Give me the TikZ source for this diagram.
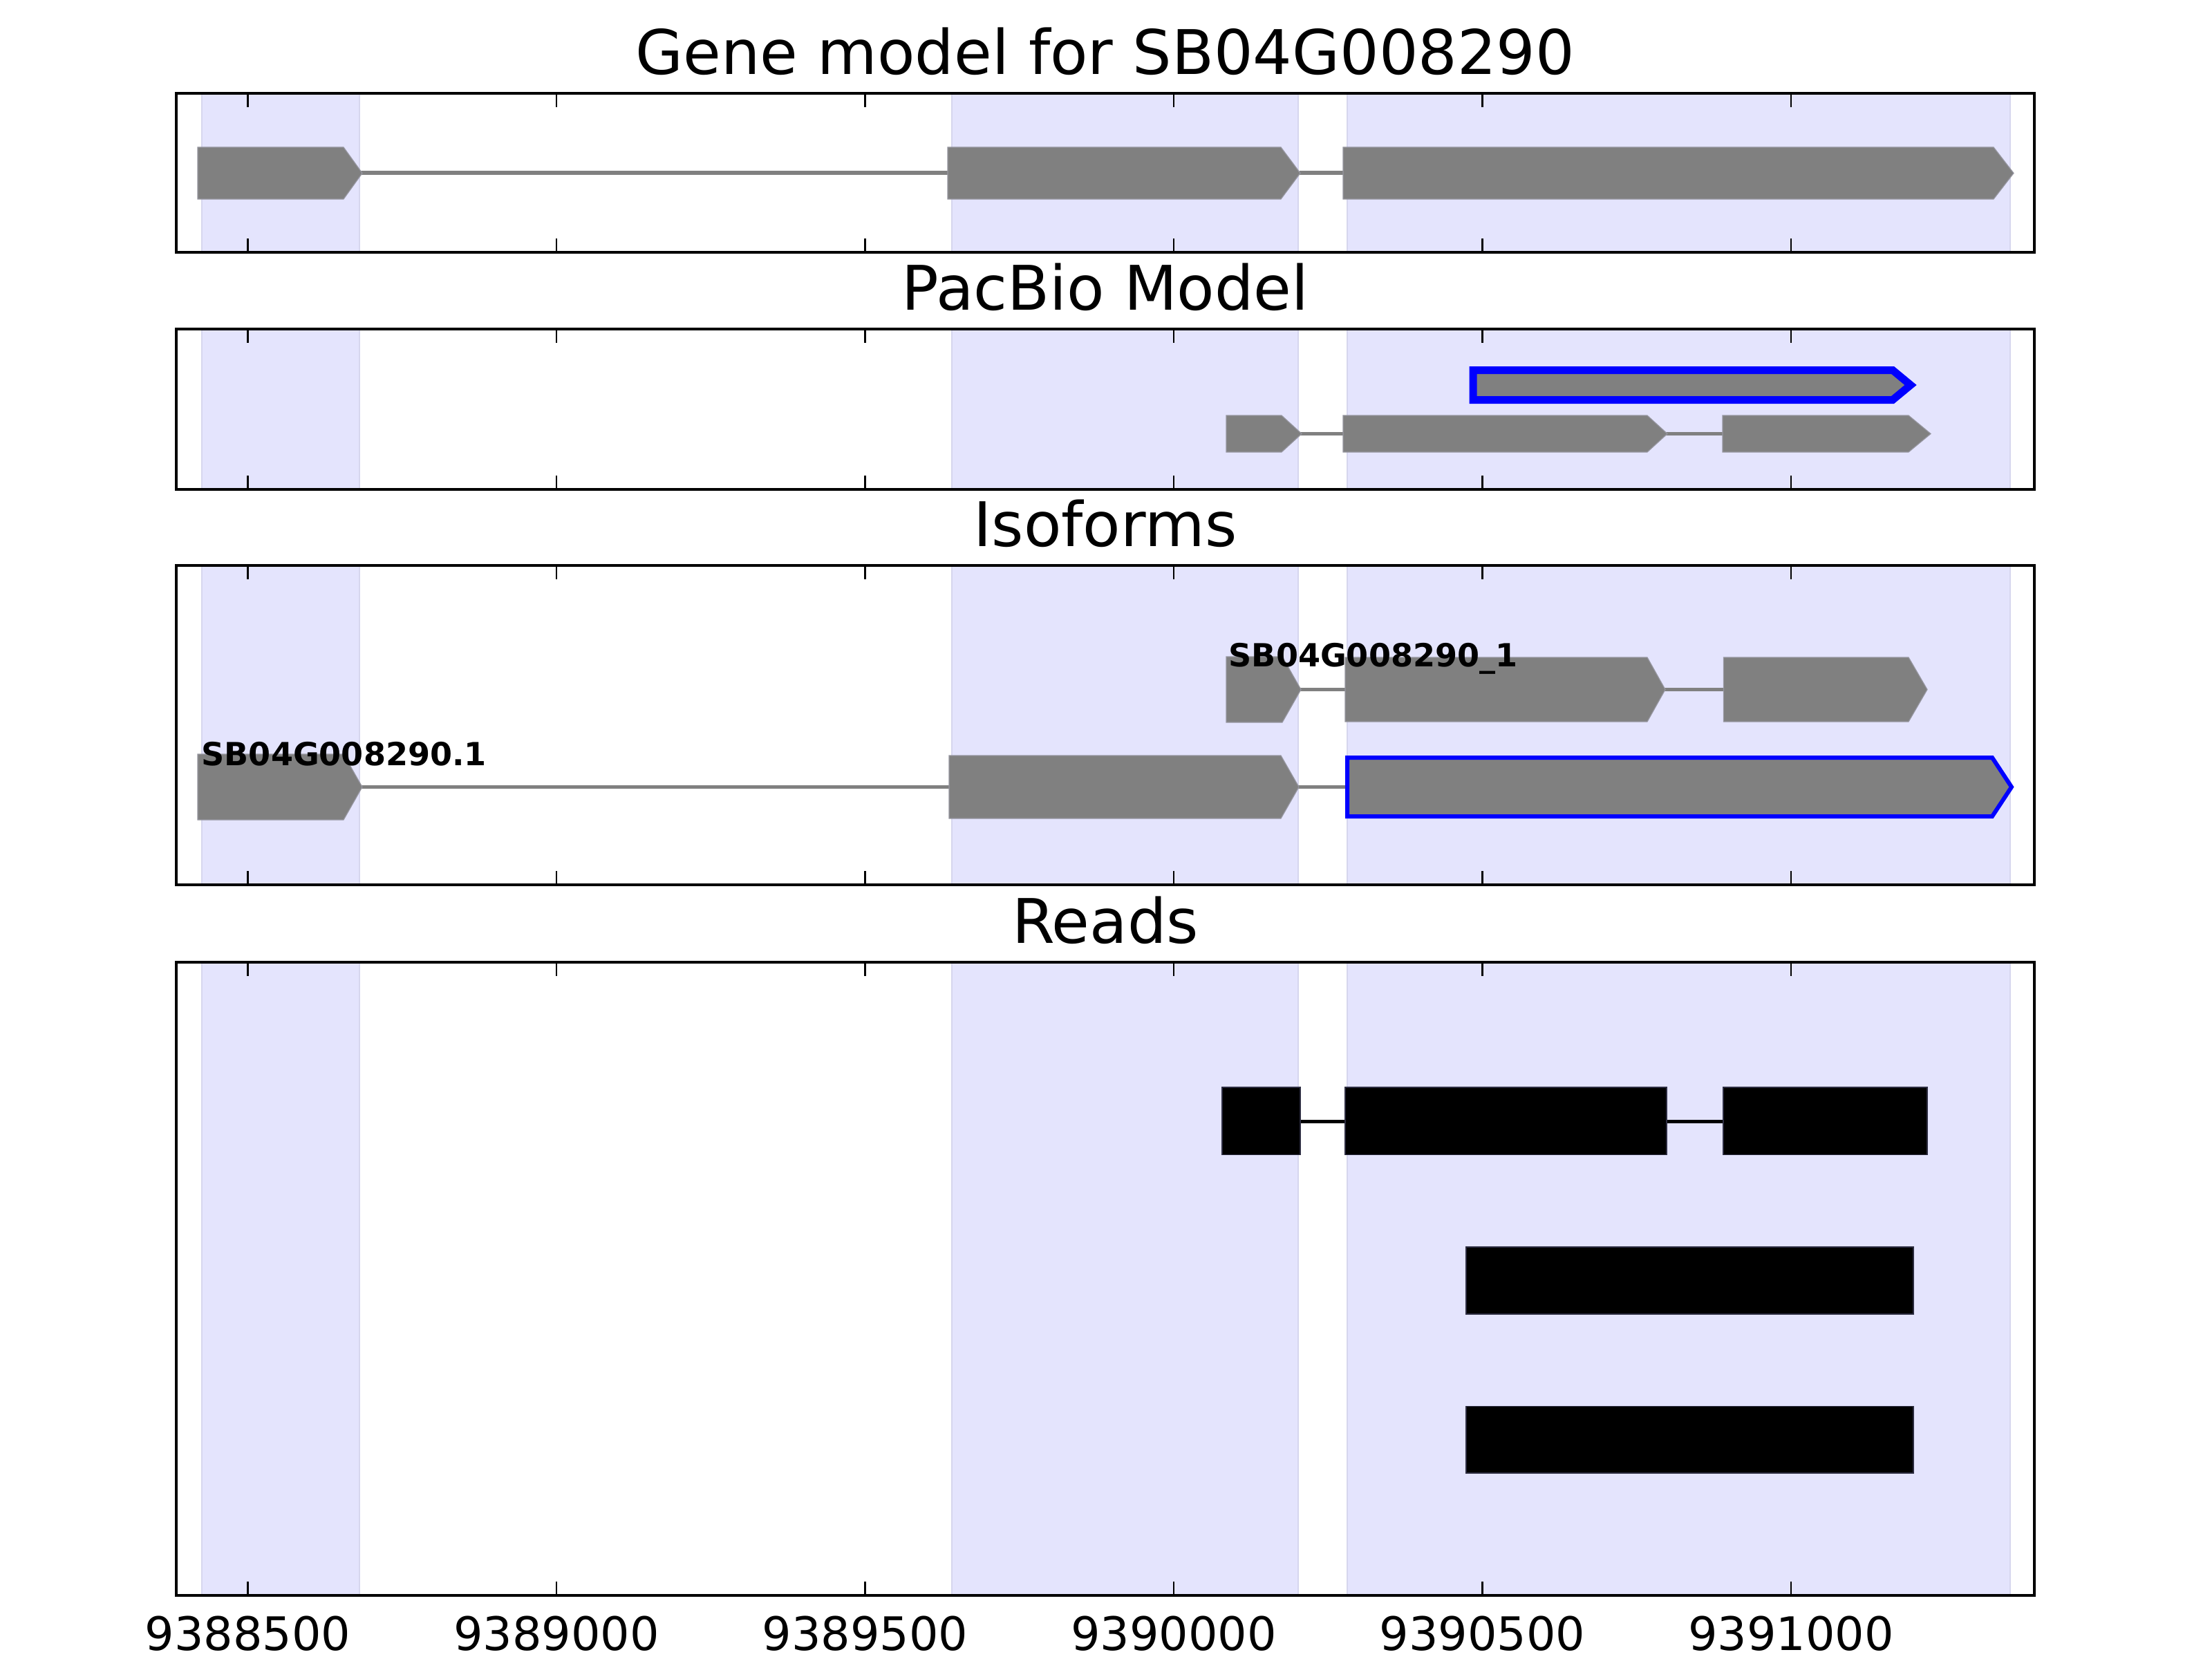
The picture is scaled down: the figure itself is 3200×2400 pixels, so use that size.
\documentclass[tikz,border=0pt]{standalone}
\usepackage{fontspec}
\setmainfont{DejaVu Sans}
\definecolor{spanfill}{RGB}{228,228,253}
\definecolor{spanedge}{RGB}{214,214,238}
\definecolor{exgray}{RGB}{128,128,128}
\definecolor{exedge}{RGB}{150,150,160}
\definecolor{readedge}{RGB}{45,45,65}
\definecolor{isoblue}{RGB}{0,0,255}
\tikzset{
 hlspan/.style={fill=spanfill, draw=spanedge, line width=0.025cm},
 exon/.style={fill=exgray, draw=exedge, line width=0.012cm},
 intron/.style={draw=exgray, line width=0.05cm},
 readbox/.style={fill=black, draw=readedge, line width=0.012cm},
 readline/.style={draw=black, line width=0.05cm},
 axframe/.style={draw=black, line width=0.04cm},
 tickmark/.style={draw=black, line width=0.025cm},
 ttl/.style={anchor=base, inner sep=0pt, font=\fontsize{25.3pt}{30pt}\selectfont},
 ticklab/.style={anchor=base, inner sep=0pt, font=\fontsize{19pt}{22pt}\selectfont},
 isolab/.style={anchor=base west, inner sep=0pt, font=\bfseries\fontsize{13.1pt}{16pt}\selectfont},
}
% #1 options, #2 left, #3 flat end, #4 tip, #5 top, #6 bottom
\newcommand{\gexon}[6][]{\draw[exon,#1] (#2,#5) -- (#3,#5) -- (#4,{(#5+#6)/2}) -- (#3,#6) -- (#2,#6) -- cycle;}
\begin{document}
\begin{tikzpicture}[x=0.01cm,y=-0.01cm]
\useasboundingbox (0,0) rectangle (3200,2400);
% shaded exon spans in every panel
\foreach \pt/\pb in {135/365,476/708,818/1280,1392/2308}{
  \draw[hlspan] (292,\pt) rectangle (520,\pb);
  \draw[hlspan] (1377,\pt) rectangle (1878,\pb);
  \draw[hlspan] (1949,\pt) rectangle (2908,\pb);
}
% ---- panel 1: gene model
\draw[intron] (520,250) -- (1373,250);
\draw[intron] (1880,250) -- (1945,250);
\gexon{286}{497}{524}{213}{288}
\gexon{1371}{1853}{1881}{213}{288}
\gexon{1943}{2884}{2913}{213}{288}
% ---- panel 2: PacBio model
\draw[fill=exgray, draw=isoblue, line width=0.11cm, line join=miter]
  (2131,535.5) -- (2738,535.5) -- (2764,557) -- (2738,578.5) -- (2131,578.5) -- cycle;
\draw[intron] (1880,627.5) -- (1945,627.5);
\draw[intron] (2410,627.5) -- (2494,627.5);
\gexon{1774}{1854}{1883}{601}{654}
\gexon{1943}{2383}{2412}{601}{654}
\gexon{2492}{2761}{2793}{601}{654}
% ---- panel 3: isoforms
\draw[intron] (1880,997.5) -- (1948,997.5);
\draw[intron] (2407,997.5) -- (2495,997.5);
\gexon{1774}{1855}{1882}{950}{1045}
\gexon{1946}{2383}{2409}{951}{1044}
\gexon{2493.5}{2761}{2788}{951}{1044}
\node[isolab] (lab1) at (1777,964) {SB04G008290\_1};
\draw[intron] (522,1138.5) -- (1375,1138.5);
\draw[intron] (1877,1138.5) -- (1950,1138.5);
\gexon{286}{497}{524}{1091}{1186}
\gexon{1373}{1853}{1879}{1093}{1184}
\draw[fill=exgray, draw=isoblue, line width=0.06cm, line join=miter]
  (1949,1096) -- (2882,1096) -- (2910,1138.5) -- (2882,1181) -- (1949,1181) -- cycle;
\node[isolab] (lab2) at (291,1107) {SB04G008290.1};
% ---- panel 4: reads
\draw[readline] (1768,1622) -- (2788,1622);
\draw[readbox] (1768,1573) rectangle (1881,1670.5);
\draw[readbox] (1946,1573) rectangle (2411,1670.5);
\draw[readbox] (2493,1573) rectangle (2788,1670.5);
\draw[readline] (2121,1852.5) -- (2768,1852.5);
\draw[readbox] (2121,1804) rectangle (2768,1901);
\draw[readline] (2121,2083) -- (2768,2083);
\draw[readbox] (2121,2034.5) rectangle (2768,2131);
% ---- ticks and frames
\foreach \pt/\pb in {135/365,476/708,818/1280,1392/2308}{
  \foreach \tx in {358.5,805,1251.5,1698,2144.5,2591}{
    \draw[tickmark] (\tx,\pt) -- (\tx,\pt+20);
    \draw[tickmark] (\tx,\pb) -- (\tx,\pb-20);
  }
  \draw[axframe] (255,\pt) rectangle (2943,\pb);
}
% ---- titles
\node[ttl] (t1) at (1599,108) {Gene model for SB04G008290};
\node[ttl] (t2) at (1599,448) {PacBio Model};
\node[ttl] (t3) at (1599,790) {Isoforms};
\node[ttl] (t4) at (1599,1364) {Reads};
% ---- tick labels
\node[ticklab] (x1) at (358.5,2387) {9388500};
\node[ticklab] (x2) at (805,2387) {9389000};
\node[ticklab] (x3) at (1251.5,2387) {9389500};
\node[ticklab] (x4) at (1698,2387) {9390000};
\node[ticklab] (x5) at (2144.5,2387) {9390500};
\node[ticklab] (x6) at (2591,2387) {9391000};
\end{tikzpicture}
\end{document}
